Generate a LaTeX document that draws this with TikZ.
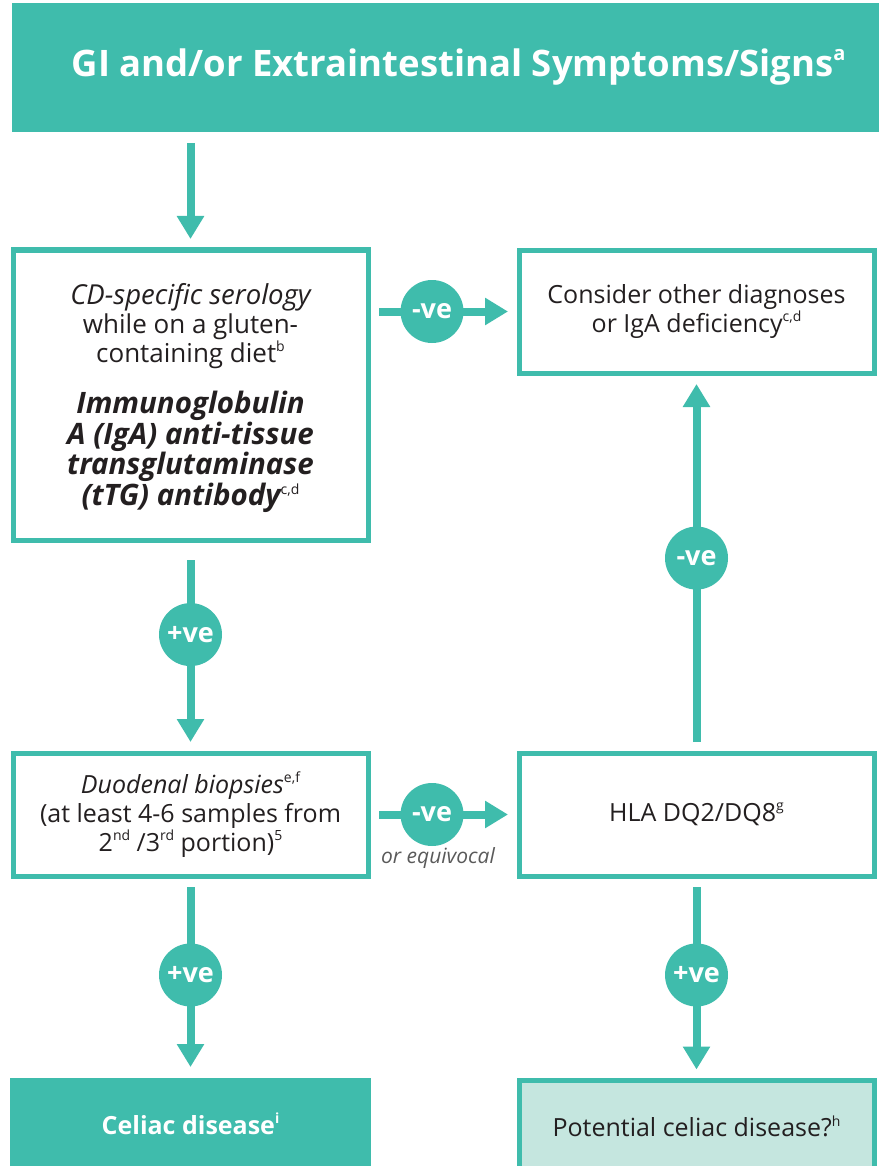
\documentclass[tikz,border=0pt]{standalone}
\usepackage{fontspec}
\setmainfont{Open Sans}
\usetikzlibrary{arrows.meta}
\newcommand{\fnm}[1]{\raisebox{0.42em}{\normalfont\fontsize{14}{14}\selectfont #1}}
\newcommand{\bfit}[1]{{\bfseries\itshape\fontsize{29.5}{29}\selectfont #1}}
\begin{document}
\begin{tikzpicture}[x=1pt, y=-1pt,
  box/.style={line width=5pt, inner sep=0pt, outer sep=0pt, align=center, text=ink, minimum width=355pt, font=\fontsize{25}{29}\selectfont},
  outlinebox/.style={box, draw=celiacteal, fill=white},
  solidbox/.style={box, fill=celiacteal, text=white, font=\bfseries\fontsize{25}{29}\selectfont},
  flow/.style={draw=celiacteal, line width=8pt, -{Triangle[length=23pt, width=26pt]}, shorten <=11pt, shorten >=11pt},
  vebadge/.style={circle, fill=celiacteal, minimum size=63pt, inner sep=0pt, text=white, font=\bfseries\fontsize{27}{27}\selectfont}]
\definecolor{celiacteal}{HTML}{3FBCAC}
\definecolor{celiacmint}{HTML}{C5E6DF}
\definecolor{ink}{HTML}{231F20}
\definecolor{notegray}{HTML}{5A5A5A}
\clip (0,0) rectangle (879,1166);
\node[solidbox, minimum width=867pt, minimum height=129pt, font=\bfseries\fontsize{36.5}{36}\selectfont] (symptoms) at (445.5, 67.5) {\hspace*{26pt}GI and/or Extraintestinal Symptoms/Signs\raisebox{0.45em}{\fontsize{20}{20}\selectfont a}};
\node[outlinebox, minimum height=290pt, font=\fontsize{26}{29}\selectfont] (serology) at (190.5, 395) {\rule{0pt}{27pt}{\itshape\fontsize{27.5}{29}\selectfont CD-specific serology}\\ while on a gluten-\\ containing diet\fnm{b}\\[22pt] \bfit{Immunoglobulin}\\ \bfit{A (IgA) anti-tissue}\\ \bfit{transglutaminase}\\ \bfit{(tTG) antibody}\fnm{c,d}};
\node[outlinebox, minimum height=123pt] (other) at (696.5, 311.5) {Consider other diagnoses\\ or IgA deficiency\fnm{c,d}};
\node[outlinebox, minimum height=123pt] (biopsy) at (190.5, 814.5) {\textit{Duodenal biopsies}\fnm{e,f}\\ (at least 4-6 samples from\\ 2\fnm{nd} /3\fnm{rd} portion)\fnm{5}};
\node[outlinebox, minimum height=123pt] (hla) at (696.5, 814.5) {HLA DQ2/DQ8\fnm{g}};
\node[solidbox, minimum width=361pt, minimum height=92pt] (celiac) at (190.5, 1124) {Celiac disease\fnm{\bfseries i}};
\node[outlinebox, fill=celiacmint, minimum height=92pt] (potential) at (696.5, 1126.5) {Potential celiac disease?\fnm{h}};
\draw[flow] (symptoms.south -| serology) -- (serology);
\draw[flow] (serology.east |- other) -- node[vebadge, pos=0.424] {-ve} (other);
\draw[flow, shorten <=20pt] (serology) -- node[vebadge, pos=0.444] {+ve} (biopsy);
\draw[flow] (hla) -- node[vebadge, pos=0.513] {-ve} (other);
\draw[flow] (biopsy) -- node[vebadge, pos=0.424] (equivocal) {-ve} (hla);
\node[font=\itshape\fontsize{21}{21}\selectfont, text=notegray] (equivnote) at (438, 858) {or equivocal};
\draw[flow] (biopsy) -- node[vebadge, pos=0.49] {+ve} (celiac);
\draw[flow] (hla) -- node[vebadge, pos=0.484] {+ve} (potential);
\end{tikzpicture}
\end{document}
